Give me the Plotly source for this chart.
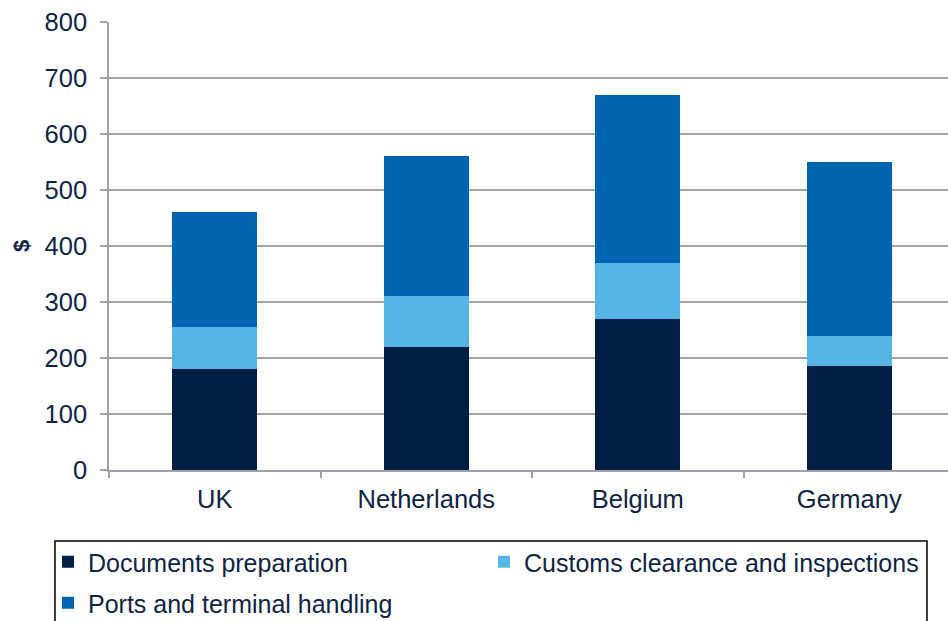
import plotly.graph_objects as go

categories = ["UK", "Netherlands", "Belgium", "Germany"]
documents = [180, 220, 270, 185]
customs = [75, 90, 100, 55]
ports = [205, 250, 300, 310]
y_ticks = [0, 100, 200, 300, 400, 500, 600, 700, 800]

TEXT = "#0f2444"
FONT = "Liberation Sans, Arial, sans-serif"
PW = 846  # plot width in px

fig = go.Figure()
fig.add_trace(go.Bar(name="Documents preparation", x=categories, y=documents,
                     marker=dict(color="#001f45", line=dict(width=0)), legend="legend"))
fig.add_trace(go.Bar(name="Customs clearance and inspections", x=categories, y=customs,
                     marker=dict(color="#56b5e6", line=dict(width=0)), legend="legend"))
fig.add_trace(go.Bar(name="Ports and terminal handling", x=categories, y=ports,
                     marker=dict(color="#0064b1", line=dict(width=0)), legend="legend2"))

leg_common = dict(orientation="h", xanchor="left", yanchor="middle",
                  font=dict(size=25, color=TEXT), entrywidth=391, entrywidthmode="pixels",
                  traceorder="normal", bgcolor="rgba(0,0,0,0)", borderwidth=0)

fig.update_layout(
    width=109 + PW, height=621,
    barmode="stack", bargap=0.598,
    plot_bgcolor="white", paper_bgcolor="white",
    margin=dict(l=109, r=0, t=22, b=151, autoexpand=False),
    font=dict(family=FONT, size=25, color=TEXT),
    showlegend=True,
    legend=dict(x=(48 - 109) / PW, y=(470 - 562) / 448, **leg_common),
    legend2=dict(x=(48 - 109) / PW, y=(470 - 603) / 448, **leg_common),
    xaxis=dict(showline=True, linecolor="#a0a0a8", linewidth=1.5,
               ticks="outside", tickson="boundaries", ticklen=6, tickcolor="#a0a0a8",
               tickwidth=1.5, showgrid=False, tickfont=dict(size=25.5, color=TEXT),
               ticklabelstandoff=6),
    yaxis=dict(range=[0, 800], tickvals=y_ticks, showline=True, linecolor="#a0a0a8",
               linewidth=1.5, showgrid=True, gridcolor="#a0a0a8", gridwidth=1.5,
               ticks="outside", ticklen=7, tickcolor="#a0a0a8", tickwidth=1.5,
               zeroline=False, tickfont=dict(size=25.5, color=TEXT), ticklabelstandoff=8),
    shapes=[dict(type="rect", xref="paper", yref="paper",
                 x0=(55 - 109) / PW, x1=(927 - 109) / PW,
                 y0=(470 - 541) / 448, y1=(470 - 640) / 448,
                 line=dict(color="#000000", width=1.5), fillcolor="rgba(0,0,0,0)")],
    annotations=[dict(text="<b>$</b>", xref="paper", yref="paper", x=(21 - 109) / PW, y=0.5,
                      xanchor="center", yanchor="middle", textangle=-90, showarrow=False,
                      font=dict(size=22, color=TEXT))],
)

fig.write_html("out.html", config={"displayModeBar": False},
               post_script="document.body.style.margin='0px';document.body.style.overflow='hidden';")
